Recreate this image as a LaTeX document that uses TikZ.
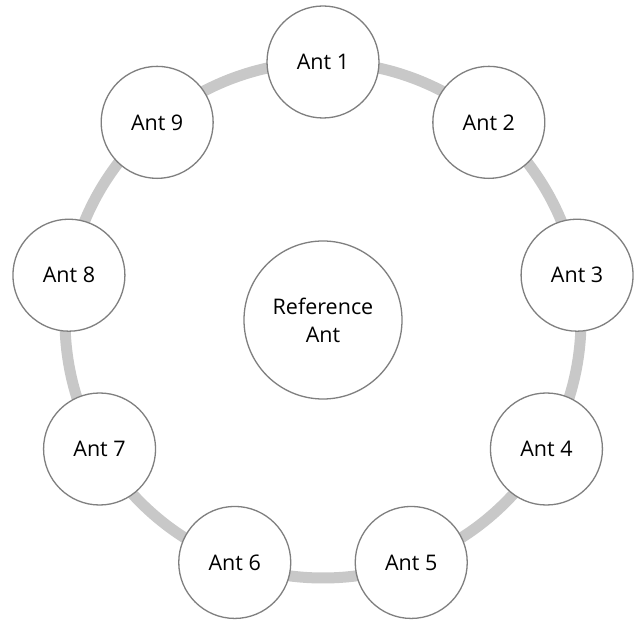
\documentclass[tikz,border=0pt]{standalone}
\usepackage{fontspec}
\setmainfont{Open Sans}
\usetikzlibrary{calc}
\definecolor{ringgray}{HTML}{C8C8C8}
\definecolor{edgegray}{HTML}{7F7F7F}
\begin{document}
\begin{tikzpicture}[x=1pt,y=-1pt,
  ant/.style={circle,draw=edgegray,line width=1.3pt,fill=white,minimum size=112pt,inner sep=0pt,font=\fontsize{21.5}{28}\selectfont},
  refant/.style={ant,minimum size=158pt,align=center}]
\useasboundingbox[fill=white] (0,0) rectangle (641,620);
\coordinate (c) at (323,320);
\draw[ringgray,line width=11pt] (c) circle[radius=258pt];
\node[refant] (ref) at (c) {Reference\\Ant};
\foreach \i/\a in {1/90,2/50,3/10,4/-30,5/-70,6/-110,7/-150,8/170,9/130}{
  \node[ant] (a\i) at ($(c)+(\a:258pt)$) {Ant \i};
}
\end{tikzpicture}
\end{document}
